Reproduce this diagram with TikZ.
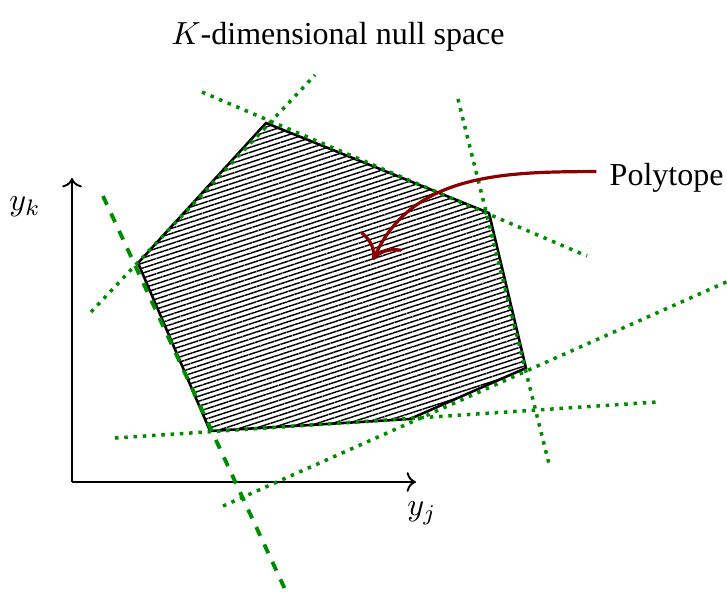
\documentclass[tikz,border=0pt]{standalone}
\usepackage{fontspec}
\setmainfont{Liberation Serif}
\usetikzlibrary{patterns.meta,arrows.meta}
\begin{document}
\begin{tikzpicture}[
        cline/.style={green!55!black, line width=1.1pt, dash pattern=on 1.1pt off 1.8pt},
        cdash/.style={green!55!black, very thick, dashed}]
        \clip (-0.791,-1.208) rectangle (7.194,5.294);

        % Polytope corners
        \coordinate (v1) at (2.131,3.943);
        \coordinate (v2) at (4.580,2.954);
        \coordinate (v3) at (4.986,1.252);
        \coordinate (v4) at (3.712,0.692);
        \coordinate (v5) at (1.516,0.560);
        \coordinate (v6) at (0.725,2.405);

        % Hatched polytope
        \draw[thick, pattern={Lines[angle=18, distance=1.5pt, line width=0.45pt]}]
            (v1) -- (v2) -- (v3) -- (v4) -- (v5) -- (v6) -- cycle;

        % Axes
        \draw[semithick, ->] (0,0) -- (3.778,0);
        \draw[semithick, ->] (0,0) -- (0,3.339);
        \node (yj) at (3.844,-0.34) {$y_j$};
        \node (yk) at (-0.516,3.02) {$y_k$};

        % Constraint lines
        \draw[cline] (0.209,1.867) -- (2.669,4.470);
        \draw[cline] (1.428,4.283) -- (5.656,2.482);
        \draw[cline] (4.239,4.206) -- (5.239,0.198);
        \draw[cline] (1.658,-0.264) -- (7.556,2.361);
        \draw[cline] (0.472,0.483) -- (6.436,0.879);
        \draw[cdash] (0.340,3.141) -- (2.394,-1.296);

        % Labels
        \node (title) at (2.921,4.887) {$K$-dimensional null space};
        \node[anchor=west, inner sep=1pt] (poly) at (5.864,3.339) {Polytope};

        % Annotation
        \coordinate (tip) at (3.306,2.438);
        \draw[-{To[scale=1.8]}, line width=1pt, red!55!black] ([xshift=-3pt, yshift=2pt]poly.west)
            to[out=180, in=66] (tip);
    \end{tikzpicture}
\end{document}
